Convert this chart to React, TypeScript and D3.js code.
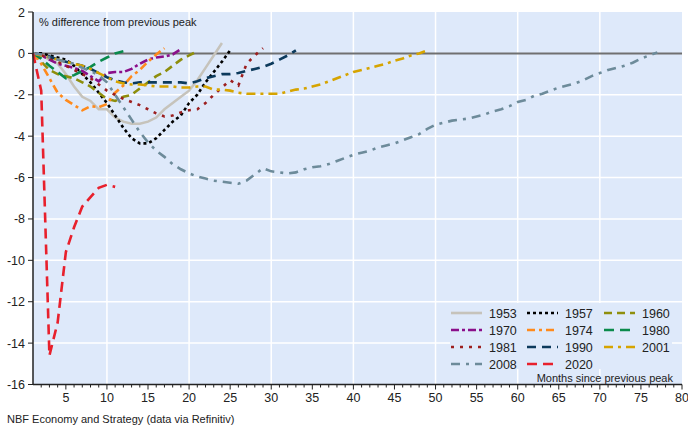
import { useEffect, useRef } from 'react'
import * as d3 from 'd3'

// % difference from previous peak, one value per month since the peak (month 1 = peak)
const s1953 = [0, -0.1, -0.3, -0.5, -1.0, -1.6, -2.1, -2.3, -2.7, -2.7, -3.1, -3.3, -3.4, -3.4, -3.3, -3.1, -2.7, -2.4, -2.1, -1.8, -1.3, -0.7, -0.1, 0.5]
const s1957 = [0, 0, -0.1, -0.2, -0.3, -0.6, -1.0, -1.4, -1.9, -2.4, -3.0, -3.6, -4.1, -4.35, -4.35, -4.1, -3.7, -3.3, -3.0, -2.4, -2.0, -1.4, -0.9, -0.4, 0.15]
const s1960 = [0, -0.4, -0.8, -1.0, -1.1, -1.2, -1.4, -1.6, -1.9, -2.2, -2.3, -2.1, -2.0, -1.7, -1.4, -1.1, -0.9, -0.6, -0.3, -0.1, 0.1]
const s1970 = [0, -0.1, -0.3, -0.5, -0.6, -0.7, -0.85, -1.1, -1.35, -0.95, -0.9, -0.9, -0.75, -0.5, -0.3, -0.2, -0.15, -0.05, 0.2]
const s1974 = [0, -0.5, -1.2, -1.9, -2.25, -2.5, -2.75, -2.55, -2.6, -2.45, -1.9, -1.55, -1.1, -0.8, -0.4, -0.05, 0.25]
const s1980 = [0, -0.25, -0.6, -0.9, -1.2, -1.05, -0.85, -0.65, -0.4, -0.2, 0, 0.1]
const s1981 = [0, -0.1, -0.2, -0.4, -0.6, -0.8, -1.0, -1.2, -1.5, -1.8, -2.0, -2.2, -2.35, -2.5, -2.7, -2.9, -3.05, -3.0, -2.85, -2.75, -2.7, -2.4, -2.0, -1.65, -1.3, -1.55, -0.5, -0.1, 0.25]
const s1990 = [0, -0.05, -0.15, -0.3, -0.4, -0.5, -0.6, -0.75, -0.95, -1.15, -1.3, -1.4, -1.45, -1.4, -1.4, -1.4, -1.4, -1.4, -1.4, -1.45, -1.35, -1.2, -1.1, -1.0, -1.0, -0.95, -0.85, -0.75, -0.65, -0.5, -0.3, -0.1, 0.15]
const s2001 = [0, -0.1, -0.2, -0.3, -0.4, -0.5, -0.6, -0.75, -0.95, -1.15, -1.35, -1.45, -1.5, -1.5, -1.55, -1.6, -1.6, -1.6, -1.65, -1.65, -1.6, -1.6, -1.75, -1.75, -1.8, -1.9, -1.95, -1.95, -1.95, -1.95, -1.95, -1.85, -1.75, -1.7, -1.6, -1.5, -1.35, -1.2, -1.05, -0.9, -0.8, -0.7, -0.6, -0.5, -0.35, -0.25, -0.1, 0, 0.15]
const s2008 = [0, -0.05, -0.2, -0.3, -0.4, -0.5, -0.7, -0.85, -1.05, -1.4, -2.0, -2.6, -3.2, -3.8, -4.3, -4.7, -5.0, -5.35, -5.6, -5.8, -5.95, -6.05, -6.15, -6.2, -6.25, -6.3, -6.15, -5.85, -5.55, -5.7, -5.75, -5.8, -5.75, -5.6, -5.5, -5.45, -5.35, -5.2, -5.05, -4.9, -4.8, -4.7, -4.55, -4.45, -4.35, -4.2, -4.05, -3.9, -3.65, -3.45, -3.35, -3.25, -3.2, -3.15, -3.05, -2.95, -2.8, -2.7, -2.55, -2.35, -2.25, -2.05, -1.95, -1.8, -1.65, -1.55, -1.45, -1.3, -1.1, -0.95, -0.8, -0.7, -0.6, -0.45, -0.25, -0.1, 0.05]
const s2020 = [0, -1.8, -14.6, -13.0, -9.6, -8.4, -7.4, -6.95, -6.5, -6.35, -6.45]

const legendNames = ['1953', '1957', '1960', '1970', '1974', '1980', '1981', '1990', '2001', '2008', '2020']
const seriesValues = [s1953, s1957, s1960, s1970, s1974, s1980, s1981, s1990, s2001, s2008, s2020]
const colors = ['#c6c3bb', '#000000', '#8e8e0c', '#8a0f8a', '#ff8a1c', '#0a8a4c', '#9c1f1f', '#0c3a5c', '#d6a400', '#6d8b9a', '#e8202c']
const dashes = ['none', '3,3', '8,5', '8,3,3,3', '8,4,3,4', '10,6', '3,6', '9,6', '9,5,3,5', '9,6,3,6', '10,6']

const xTicks = [5, 10, 15, 20, 25, 30, 35, 40, 45, 50, 55, 60, 65, 70, 75, 80]
const yTicks = [2, 0, -2, -4, -6, -8, -10, -12, -14, -16]

export default function App() {
  const svgRef = useRef(null)

  useEffect(() => {
    const svg = d3.select(svgRef.current)
    svg.selectAll('*').remove()

    const font = 'Arial, "Liberation Sans", sans-serif'
    const x = d3.scaleLinear().domain([1, 80]).range([33, 682])
    const y = d3.scaleLinear().domain([-16, 2]).range([384.5, 12])

    // plot background
    svg.append('rect')
      .attr('x', x(1)).attr('y', y(2))
      .attr('width', x(80) - x(1)).attr('height', y(-16) - y(2))
      .attr('fill', '#dee9fa')

    // grid
    const grid = svg.append('g').attr('stroke', '#ffffff').attr('stroke-width', 1.5)
    d3.range(10, 80, 10).forEach(v => {
      grid.append('line').attr('x1', x(v)).attr('x2', x(v)).attr('y1', y(2)).attr('y2', y(-16))
    })
    yTicks.filter(v => v !== 2 && v !== -16 && v !== 0).forEach(v => {
      grid.append('line').attr('x1', x(1)).attr('x2', x(80)).attr('y1', y(v)).attr('y2', y(v))
    })

    // zero line
    svg.append('line')
      .attr('x1', x(1)).attr('x2', x(80)).attr('y1', y(0)).attr('y2', y(0))
      .attr('stroke', '#707070').attr('stroke-width', 2)

    // legend box hides the grid behind it
    svg.append('rect')
      .attr('x', 450).attr('y', 303).attr('width', 222).attr('height', 66)
      .attr('fill', '#dee9fa')

    // series
    const line = d3.line().x((d, i) => x(i + 1)).y(d => y(d))
    seriesValues.forEach((vals, k) => {
      svg.append('path')
        .datum(vals)
        .attr('fill', 'none')
        .attr('stroke', colors[k])
        .attr('stroke-width', k === 0 ? 2.5 : 2.6)
        .attr('stroke-dasharray', dashes[k])
        .attr('d', line)
    })

    // axes
    const xAxis = svg.append('g').attr('transform', `translate(0,${y(-16)})`)
    xAxis.append('line').attr('x1', x(1)).attr('x2', x(80)).attr('stroke', '#222').attr('stroke-width', 1.5)
    d3.range(2, 81).forEach(v => {
      xAxis.append('line')
        .attr('x1', x(v)).attr('x2', x(v)).attr('y1', 0).attr('y2', v % 5 === 0 ? 5 : 3)
        .attr('stroke', '#222').attr('stroke-width', 1)
    })
    xTicks.forEach(v => {
      xAxis.append('text')
        .attr('x', x(v)).attr('y', 17)
        .attr('text-anchor', 'middle')
        .attr('font-family', font).attr('font-size', 12.5).attr('fill', '#222')
        .text(v)
    })

    const yAxis = svg.append('g').attr('transform', `translate(${x(1)},0)`)
    yAxis.append('line').attr('y1', y(2)).attr('y2', y(-16)).attr('stroke', '#222').attr('stroke-width', 1.5)
    yTicks.forEach(v => {
      yAxis.append('line').attr('x1', -5).attr('x2', 0).attr('y1', y(v)).attr('y2', y(v)).attr('stroke', '#222')
      yAxis.append('text')
        .attr('x', -8).attr('y', y(v) + 4.5)
        .attr('text-anchor', 'end')
        .attr('font-family', font).attr('font-size', 12.5).attr('fill', '#222')
        .text(v)
    })

    // labels
    svg.append('text').attr('x', 39).attr('y', 26)
      .attr('font-family', font).attr('font-size', 11).attr('fill', '#222')
      .text('% difference from previous peak')
    svg.append('text').attr('x', 673).attr('y', 382).attr('text-anchor', 'end')
      .attr('font-family', font).attr('font-size', 11).attr('fill', '#222')
      .text('Months since previous peak')
    svg.append('text').attr('x', 7).attr('y', 423)
      .attr('font-family', font).attr('font-size', 11).attr('fill', '#222')
      .text('NBF Economy and Strategy (data via Refinitiv)')

    // legend
    const colX = [451, 527, 604]
    const rowY = [313, 330, 347, 364]
    legendNames.forEach((name, k) => {
      const lx = colX[k % 3]
      const ly = rowY[Math.floor(k / 3)]
      svg.append('line')
        .attr('x1', lx).attr('x2', lx + 31).attr('y1', ly).attr('y2', ly)
        .attr('stroke', colors[k]).attr('stroke-width', 2.6)
        .attr('stroke-dasharray', dashes[k])
      svg.append('text')
        .attr('x', lx + 38).attr('y', ly + 4.5)
        .attr('font-family', font).attr('font-size', 12.5).attr('fill', '#222')
        .text(name)
    })
  }, [])

  return (
    <svg ref={svgRef} width={688} height={428}
      style={{ position: 'fixed', left: 0, top: 0, background: '#fff' }} />
  )
}
